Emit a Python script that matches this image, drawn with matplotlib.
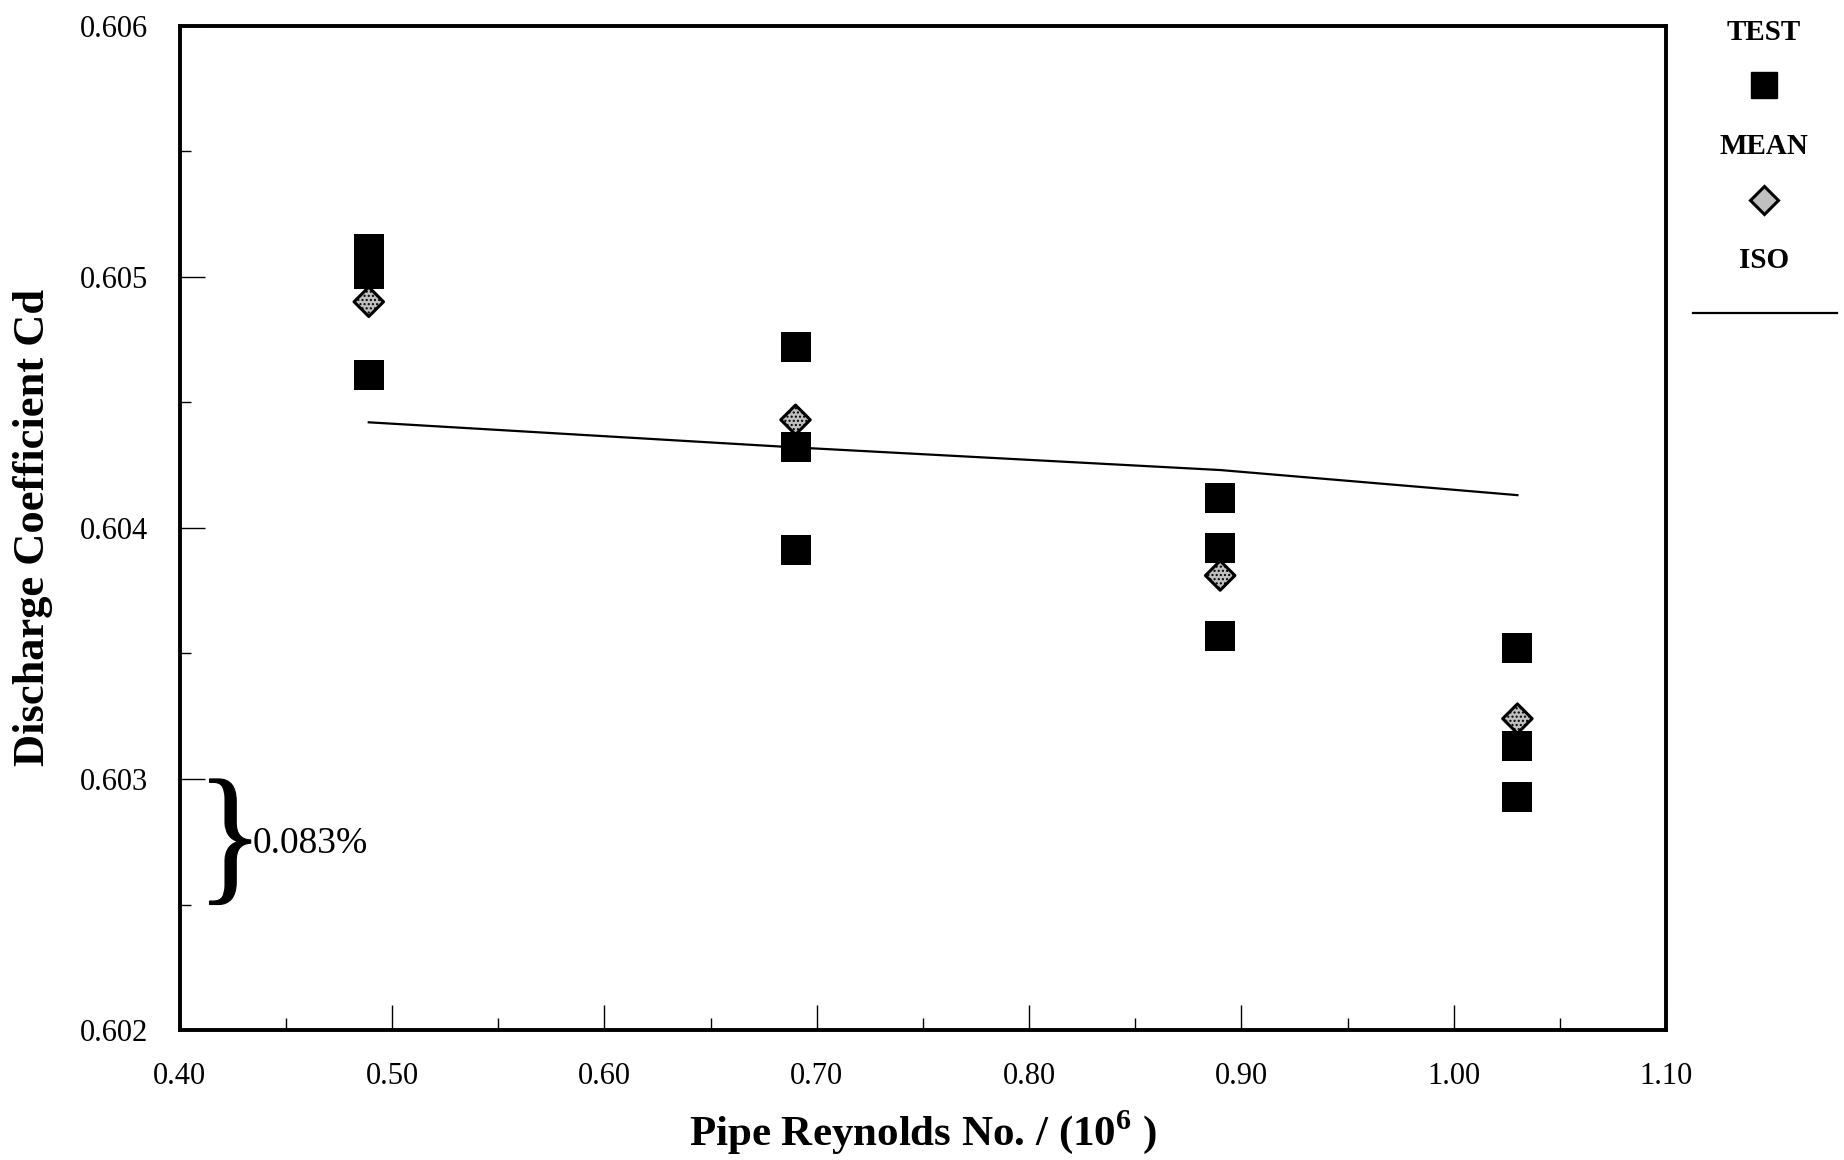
import matplotlib
matplotlib.use("Agg")
import matplotlib.pyplot as plt
from matplotlib.lines import Line2D
from matplotlib.textpath import TextPath
from matplotlib.patches import PathPatch
from matplotlib.font_manager import FontProperties
from matplotlib.transforms import Affine2D
from matplotlib.ticker import MultipleLocator, FormatStrFormatter

# ---- data ----
reynolds = [0.489, 0.690, 0.890, 1.030]          # pipe Reynolds number / 1e6
cd_test = [
    [0.60511, 0.60501, 0.60461],
    [0.60472, 0.60432, 0.60391],
    [0.60412, 0.60392, 0.60357],
    [0.60352, 0.60313, 0.60293],
]
cd_mean = [0.60490, 0.60443, 0.60381, 0.60324]
cd_iso = [0.60442, 0.60432, 0.60423, 0.60413]

x_ticks = [0.40, 0.50, 0.60, 0.70, 0.80, 0.90, 1.00, 1.10]
y_ticks = [0.602, 0.603, 0.604, 0.605, 0.606]

plt.rcParams["font.family"] = ["Liberation Serif", "DejaVu Serif"]
plt.rcParams["mathtext.fontset"] = "custom"
plt.rcParams["mathtext.rm"] = "Liberation Serif"
plt.rcParams["mathtext.bf"] = "Liberation Serif:bold"

fig = plt.figure(figsize=(18.44, 11.6), dpi=100)
ax = fig.add_axes([0.0975, 0.112, 0.806, 0.866])

# test points (squares), one column per Reynolds number
for re, vals in zip(reynolds, cd_test):
    ax.scatter([re] * len(vals), vals, marker="s", s=21.5 ** 2,
               color="black", linewidths=0, zorder=3)

# ISO curve
ax.plot(reynolds, cd_iso, color="black", lw=1.6, zorder=2)

# means (shaded diamonds)
ax.scatter(reynolds, cd_mean, marker="D", s=15.0 ** 2, facecolor="#c0c0c0",
           edgecolor="black", linewidths=2.2, hatch="....", zorder=4)

ax.set_xlim(x_ticks[0], x_ticks[-1])
ax.set_ylim(y_ticks[0], y_ticks[-1])
ax.set_xticks(x_ticks)
ax.set_yticks(y_ticks)
ax.xaxis.set_major_formatter(FormatStrFormatter("%.2f"))
ax.yaxis.set_major_formatter(FormatStrFormatter("%.3f"))
ax.xaxis.set_minor_locator(MultipleLocator(0.05))
ax.yaxis.set_minor_locator(MultipleLocator(0.0005))

ax.tick_params(which="both", direction="in", top=False, right=False,
               width=1.0, labelsize=22)
ax.tick_params(axis="x", which="major", length=18, pad=23)
ax.tick_params(axis="x", which="minor", length=9)
ax.tick_params(axis="y", which="major", length=18, pad=23)
ax.tick_params(axis="y", which="minor", length=8)
for sp in ax.spines.values():
    sp.set_linewidth(2.8)

ax.set_xlabel(r"Pipe Reynolds No. / (10$^{\mathbf{6}}$ )", fontsize=31,
              fontweight="bold")
ax.xaxis.set_label_coords(0.5, -0.078)
ax.set_ylabel("Discharge Coefficient Cd", fontsize=32, fontweight="bold")
ax.yaxis.set_label_coords(-0.085, 0.5)

# brace marking the 0.0005 span (0.083 %)
brace = TextPath((0, 0), "}", prop=FontProperties(family="Liberation Serif"))
bb = brace.get_extents()
x0, x1 = 0.4140, 0.4334
y0, y1 = 0.6025, 0.6030
tr = (Affine2D().translate(-bb.x0, -bb.y0)
      .scale((x1 - x0) / bb.width, (y1 - y0) / bb.height)
      .translate(x0, y0))
ax.add_patch(PathPatch(tr.transform_path(brace), facecolor="black",
                       edgecolor="black", lw=0.8, zorder=3))
ax.text(0.4343, 0.60274, "0.083%", fontsize=27, ha="left", va="center")

# key on the right-hand side
fw, fh = 1844.0, 1160.0
fig.text(1764 / fw, 1 - 33 / fh, "TEST", fontsize=21, fontweight="bold",
         ha="center", va="center")
fig.add_artist(Line2D([1764 / fw], [1 - 85 / fh], marker="s", markersize=19,
                      color="black", linestyle="none", transform=fig.transFigure))
fig.text(1764 / fw, 1 - 146 / fh, "MEAN", fontsize=21, fontweight="bold",
         ha="center", va="center")
fig.add_artist(Line2D([1764 / fw], [1 - 200 / fh], marker="D", markersize=14,
                      markerfacecolor="#c0c0c0", markeredgecolor="black",
                      markeredgewidth=2.2, linestyle="none",
                      transform=fig.transFigure))
fig.text(1764 / fw, 1 - 260 / fh, "ISO", fontsize=21, fontweight="bold",
         ha="center", va="center")
fig.add_artist(Line2D([1693 / fw, 1837 / fw], [1 - 313 / fh, 1 - 313 / fh],
                      color="black", lw=1.6, transform=fig.transFigure))

fig.savefig("out.png", dpi=100)
